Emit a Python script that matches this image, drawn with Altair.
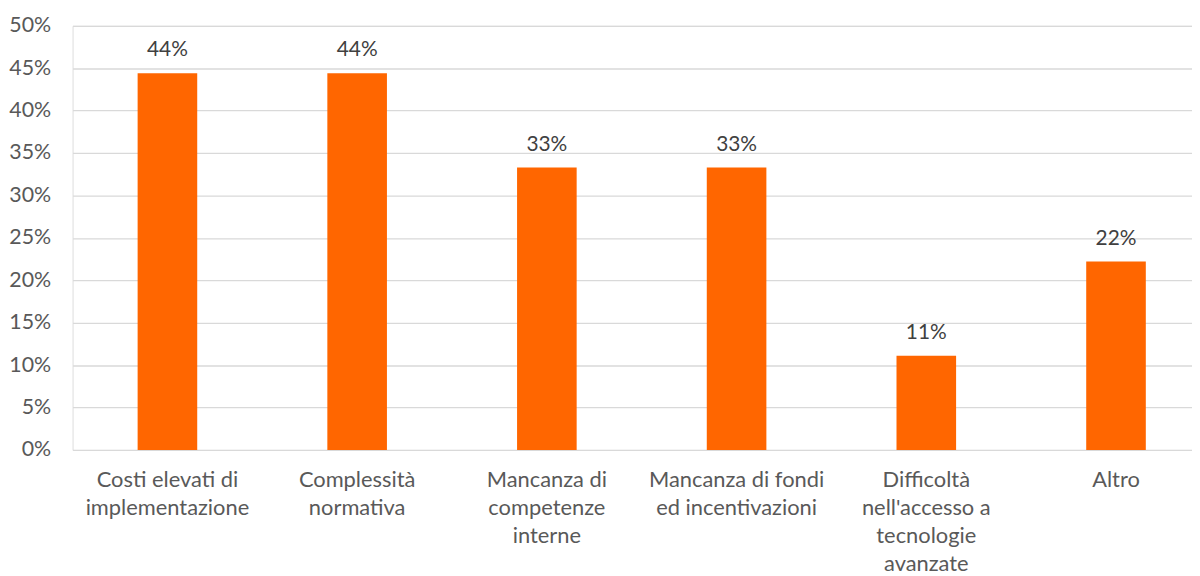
import altair as alt
import pandas as pd

categories = [
    "Costi elevati di\nimplementazione",
    "Complessità\nnormativa",
    "Mancanza di\ncompetenze\ninterne",
    "Mancanza di fondi\ned incentivazioni",
    "Difficoltà\nnell'accesso a\ntecnologie\navanzate",
    "Altro",
]
values = [0.444, 0.444, 0.333, 0.333, 0.111, 0.222]

df = pd.DataFrame({"cat": categories, "val": values})

FONT = "Lato"

x = alt.X(
    "cat:N",
    sort=categories,
    title=None,
    scale=alt.Scale(paddingInner=0, paddingOuter=0, range=[0, 1146]),
    axis=alt.Axis(
        labelAngle=0,
        labelExpr="split(datum.label, '\\n')",
        labelFont=FONT,
        labelFontSize=22,
        labelColor="#595959",
        labelLineHeight=28,
        labelPadding=20,
        labelBaseline="top",
        domain=False,
        ticks=False,
        grid=False,
    ),
)
y = alt.Y(
    "val:Q",
    title=None,
    scale=alt.Scale(domain=[0, 0.5]),
    axis=alt.Axis(
        values=[i * 0.05 for i in range(11)],
        format=".0%",
        labelFont=FONT,
        labelFontSize=21.5,
        labelColor="#595959",
        labelPadding=22,
        domain=False,
        ticks=False,
        gridColor="#D9D9D9",
        gridWidth=1.3,
    ),
)

bars = alt.Chart(df).mark_bar(color="#FF6600", size=60).encode(x=x, y=y)
labels = alt.Chart(df).mark_text(
    font=FONT, fontSize=21, color="#404040", baseline="bottom", dy=-13
).encode(x=x, y=y, text=alt.Text("val:Q", format=".0%"))

chart = (
    alt.layer(bars, labels)
    .properties(
        width=1127,
        height=427,
        autosize=alt.AutoSizeParams(type="none"),
        padding={"left": 65, "top": 16, "right": 0, "bottom": 125},
    )
    .configure_view(stroke=None)
    .configure(background="white")
)

chart.save("out.html", embed_options={"renderer": "svg", "actions": False})
